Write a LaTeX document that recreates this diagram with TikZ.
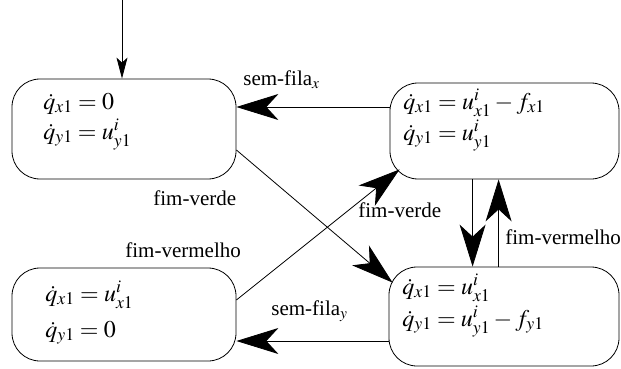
\documentclass[tikz,border=0pt]{standalone}
\usepackage{mathptmx}
\usepackage{fontspec}
\setmainfont{Liberation Serif}
\usetikzlibrary{arrows.meta,calc}
\begin{document}
\begin{tikzpicture}[x=1pt,y=-1pt, line width=0.8pt,
  box/.style={draw, rounded corners=28pt, inner sep=0pt},
  eq/.style={anchor=base west, inner sep=0pt, font=\fontsize{24}{28}\selectfont},
  lbl/.style={anchor=base west, inner sep=0pt, font=\fontsize{21}{25}\selectfont},
  big/.style={-{Stealth[length=42pt,width=26pt,inset=12pt]}},
  small/.style={-{Stealth[length=21pt,width=11pt,inset=5pt]}}]
\useasboundingbox (0,0) rectangle (621,369);

% boxes
\node[box, minimum width=224pt, minimum height=100pt] (tl) at (124,129) {};
\node[box, minimum width=229pt, minimum height=96pt] (tr) at (504.5,131) {};
\node[box, minimum width=224pt, minimum height=93pt] (bl) at (124,314.5) {};
\node[box, minimum width=230pt, minimum height=99pt] (br) at (504,316.5) {};

% box contents
\node[eq] (tl1) at (43,109) {$\dot{q}_{x1} = 0$};
\node[eq] (tl2) at (43,139) {$\dot{q}_{y1} = u^i_{y1}$};
\node[eq] (tr1) at (403,109) {$\dot{q}_{x1} = u^i_{x1} - f_{x1}$};
\node[eq] (tr2) at (403,140) {$\dot{q}_{y1} = u^i_{y1}$};
\node[eq] (bl1) at (45,301) {$\dot{q}_{x1} = u^i_{x1}$};
\node[eq] (bl2) at (45,337) {$\dot{q}_{y1} = 0$};
\node[eq] (br1) at (402,294) {$\dot{q}_{x1} = u^i_{x1}$};
\node[eq] (br2) at (402,326) {$\dot{q}_{y1} = u^i_{y1} - f_{y1}$};

% labels
\node[lbl] (lsx) at (243,85) {sem-fila$_x$};
\node[lbl] (lsy) at (271,315) {sem-fila$_y$};
\node[lbl] (lfv1) at (153,205) {fim-verde};
\node[lbl] (lfm1) at (125,257) {fim-vermelho};
\node[lbl] (lfv2) at (358,217) {fim-verde};
\node[lbl] (lfm2) at (505,244) {fim-vermelho};

% connectors
\coordinate (init) at (122,0);
\draw[small] (init) -- (init |- tl.north);

\coordinate (sx) at ([yshift=24pt]tr.west);
\draw[big] (sx) -- (sx -| tl.east);

\coordinate (sy) at ([yshift=-24.5pt]br.west);
\draw[big] (sy) -- (sy -| bl.east);

\coordinate (tlbrS) at ([yshift=-21pt]tl.east);
\coordinate (tlbrE) at ($(br.north west)+(4,16)$);
\draw[big] (tlbrS) -- (tlbrE);

\coordinate (bltrS) at ([yshift=14.5pt]bl.east);
\coordinate (bltrE) at ($(tr.south west)+(10,-10)$);
\draw[big] (bltrS) -- (bltrE);

\draw[big] ([xshift=83pt]tr.south west) -- ([xshift=84pt]br.north west);
\draw[big] ([xshift=110pt]br.north west) -- ([xshift=109pt]tr.south west);
\end{tikzpicture}
\end{document}
